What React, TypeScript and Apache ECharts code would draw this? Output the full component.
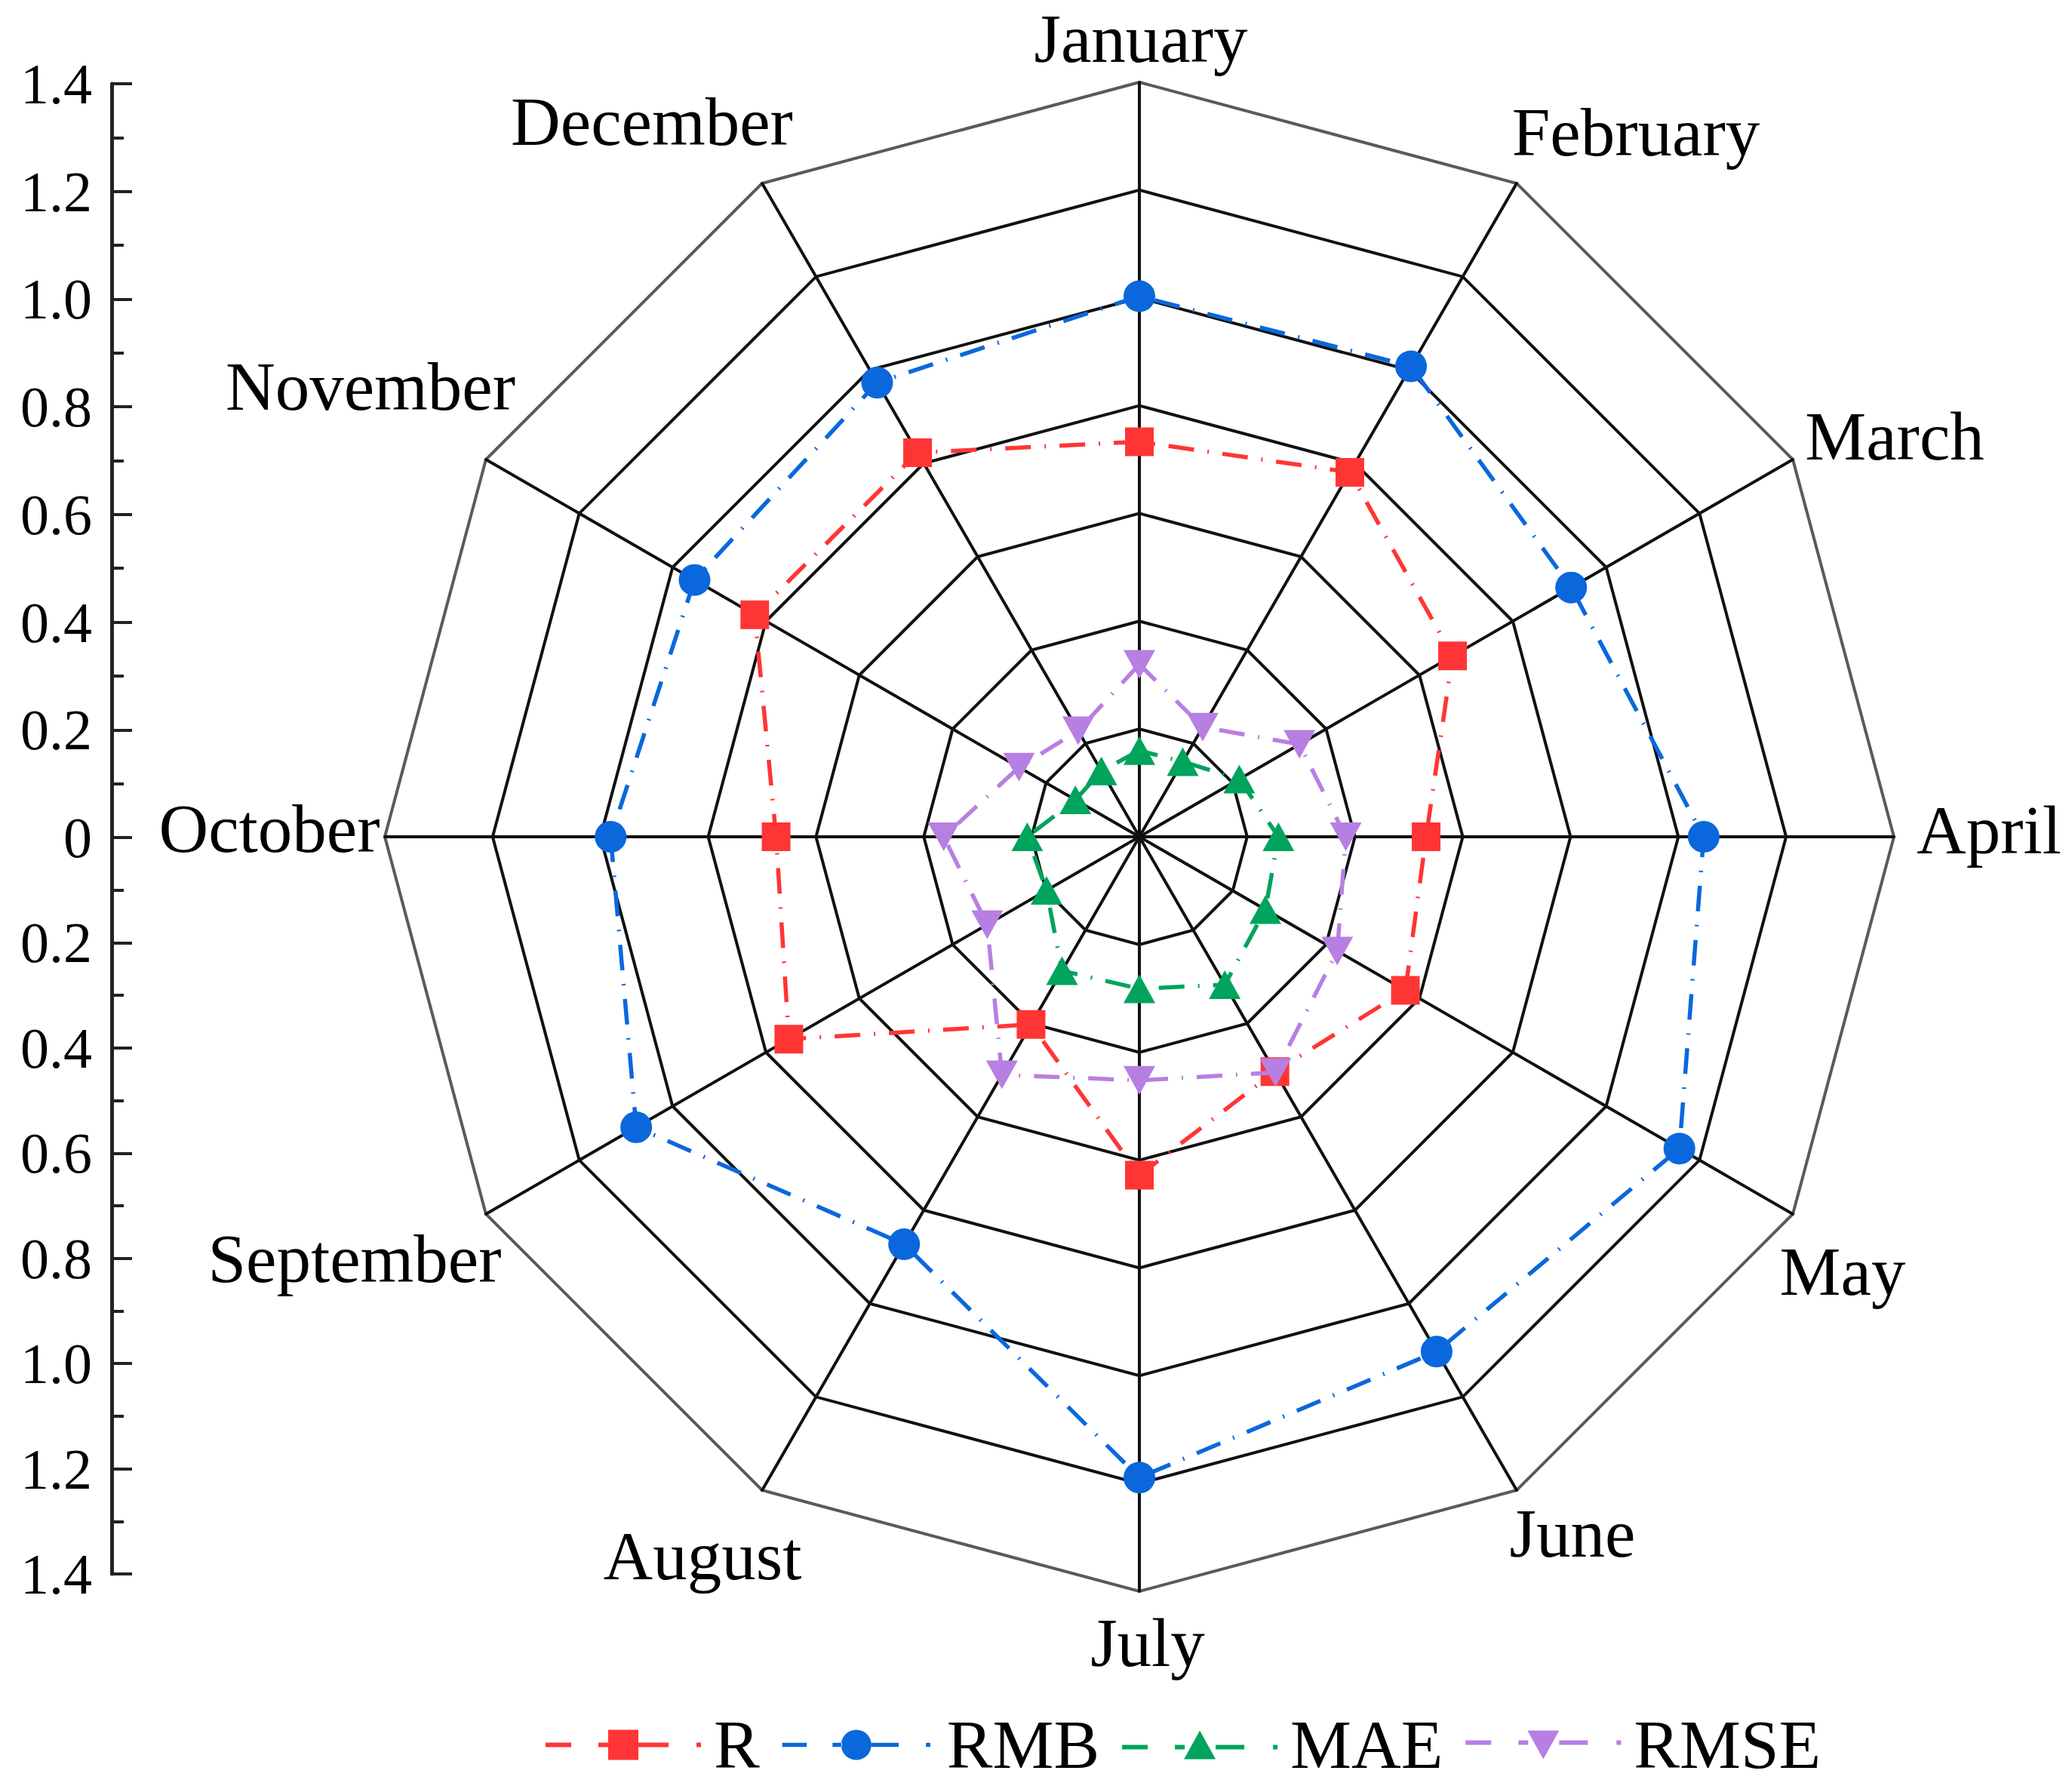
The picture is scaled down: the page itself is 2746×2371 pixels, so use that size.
import React, { useEffect, useRef } from 'react';
import * as echarts from 'echarts';

const months = ['January', 'February', 'March', 'April', 'May', 'June', 'July', 'August', 'September', 'October', 'November', 'December'];
const rValues = [0.733, 0.781, 0.671, 0.532, 0.570, 0.503, 0.628, 0.402, 0.751, 0.674, 0.824, 0.823];
const rmbValues = [1.003, 1.008, 0.925, 1.047, 1.157, 1.103, 1.189, 0.873, 1.078, 0.981, 0.953, 0.973];
const maeValues = [0.160, 0.161, 0.214, 0.258, 0.270, 0.317, 0.282, 0.287, 0.199, 0.208, 0.137, 0.141];
const rmseValues = [0.320, 0.235, 0.343, 0.383, 0.424, 0.505, 0.452, 0.510, 0.326, 0.363, 0.258, 0.227];
const seriesNames = ['R', 'RMB', 'MAE', 'RMSE'];
const axisMin = 0;
const axisMax = 1.4;
const axisStep = 0.2;

const seriesColors = ['#FF3535', '#0A68DC', '#00A45C', '#B87FE2'];
const FONT = "'Liberation Serif', 'Times New Roman', serif";

// label offsets (text centre relative to polygon vertex), layout only
const nameOffsets = [
  [2, -58], [158, -67], [135, -31], [126, -9], [66, 76], [74, 57],
  [11, 68], [-79, 87], [-174, 59], [-153, -11], [-153, -97], [-146, -81],
];

const legendIcons = [
  'path://M0 17h34v6h-34z M70 17h13v6h-13z M83 0h40v40h-40z M123 17h40v6h-40z M200 17h6v6h-6z',
  'path://M0 17h34v6h-34z M70 17h13v6h-13z M82 20a21 21 0 1 0 42 0a21 21 0 1 0 -42 0z M124 17h38v6h-38z M200 17h6v6h-6z',
  'path://M0 21h34v6h-34z M70 21h13v6h-13z M82 40L103 2L124 40z M124 21h38v6h-38z M200 21h6v6h-6z',
  'path://M0 13h34v6h-34z M70 13h13v6h-13z M82 0L124 0L103 38z M124 13h38v6h-38z M200 13h6v6h-6z',
];

const symbols = ['rect', 'circle', 'triangle', 'path://M0 0L20 0L10 18z'];
const symbolSizes: any[] = [38, 42, [42, 38], [42, 38]];

export default function App() {
  const ref = useRef<HTMLDivElement>(null);
  useEffect(() => {
    if (!ref.current) return;
    const chart = echarts.init(ref.current, undefined, { renderer: 'svg' });
    // clockwise order starting at January (radar goes counter-clockwise)
    const order = [0, 11, 10, 9, 8, 7, 6, 5, 4, 3, 2, 1];
    const indicator = order.map((i) => ({ name: months[i], min: axisMin, max: axisMax }));
    const allValues = [rValues, rmbValues, maeValues, rmseValues];
    const rich: any = {};
    months.forEach((m, i) => {
      const [dx, dy] = nameOffsets[i];
      rich['m' + i] = {
        fontFamily: FONT,
        fontSize: 91,
        color: '#000',
        padding: [Math.max(0, 2 * dy), Math.max(0, -2 * dx), Math.max(0, -2 * dy), Math.max(0, 2 * dx)],
      };
    });
    const axisCommon = {
      type: 'value',
      min: axisMin,
      max: axisMax,
      interval: axisStep,
      position: 'left',
      axisLine: { show: true, lineStyle: { color: '#222', width: 5 } },
      axisTick: { show: true, inside: true, length: 27, lineStyle: { color: '#222', width: 4 } },
      minorTick: { show: true, splitNumber: 2, length: 16, lineStyle: { color: '#222', width: 4 } },
      splitLine: { show: false },
    };
    chart.setOption({
      animation: false,
      backgroundColor: '#fff',
      grid: [
        { left: 148, top: 111, width: 1, height: 999 },
        { left: 148, top: 1110, width: 1, height: 976 },
      ],
      xAxis: [
        { type: 'value', gridIndex: 0, show: false },
        { type: 'value', gridIndex: 1, show: false },
      ],
      yAxis: [
        {
          ...axisCommon,
          gridIndex: 0,
          axisLabel: {
            margin: 26, color: '#000', fontFamily: FONT, fontSize: 76,
            formatter: (v: number) => (Math.abs(v) < 1e-9 ? '0' : v.toFixed(1)),
          },
        },
        {
          ...axisCommon,
          gridIndex: 1,
          inverse: true,
          axisLabel: {
            margin: 26, color: '#000', fontFamily: FONT, fontSize: 76,
            formatter: (v: number) => (Math.abs(v) < 1e-9 ? '' : v.toFixed(1)),
          },
        },
      ],
      radar: {
        center: [1510, 1109],
        radius: 1000,
        startAngle: 90,
        splitNumber: 7,
        shape: 'polygon',
        nameGap: 0,
        indicator,
        axisName: {
          color: '#000',
          fontFamily: FONT,
          fontSize: 91,
          align: 'center',
          verticalAlign: 'middle',
          formatter: (name: string) => `{m${months.indexOf(name)}|${name}}`,
          rich,
        },
        axisLine: { lineStyle: { color: '#111', width: 4 } },
        splitLine: {
          lineStyle: { color: ['#111', '#111', '#111', '#111', '#111', '#111', '#111', '#5a5a5a'], width: 4 },
        },
        splitArea: { show: false },
        axisTick: { show: false },
        axisLabel: { show: false },
      },
      legend: {
        data: seriesNames.map((n, i) => ({ name: n, icon: legendIcons[i] })),
        left: 718,
        top: 2262,
        itemWidth: 206,
        itemHeight: 40,
        itemGap: 30,
        symbolKeepAspect: true,
        textStyle: { fontFamily: FONT, fontSize: 91, color: '#000', padding: [0, 0, 0, 12] },
      },
      series: seriesNames.map((n, s) => ({
        type: 'radar',
        name: n,
        symbol: symbols[s],
        symbolSize: symbolSizes[s],
        itemStyle: { color: seriesColors[s] },
        lineStyle: { color: seriesColors[s], width: 5.5, type: [34, 18, 2, 18] },
        z: 2 + s,
        data: [{ name: n, value: order.map((i) => allValues[s][i]) }],
      })),
    });
    return () => chart.dispose();
  }, []);
  return (
    <div
      ref={ref}
      style={{ position: 'fixed', left: 0, top: 0, width: 2746, height: 2371, background: '#fff' }}
    />
  );
}
